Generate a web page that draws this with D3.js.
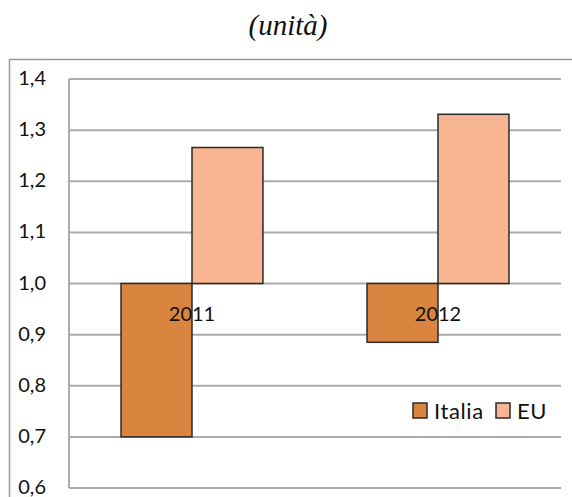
<!DOCTYPE html>
<html>
<head>
<meta charset="utf-8">
<script src="https://cdn.jsdelivr.net/npm/d3@7"></script>
<style>
body { margin: 0; background: #fff; }
svg { display: block; }
.title { font-family: 'Liberation Serif', 'Times New Roman', Times, serif; font-style: italic; }
</style>
</head>
<body>
<svg id="chart" width="572" height="497"></svg>
<script>
// data
let years = ['2011', '2012'];
let series = ['Italia', 'EU'];
let italia = [0.70, 0.885];
let eu = [1.266, 1.331];
let yTicks = [0.6, 0.7, 0.8, 0.9, 1.0, 1.1, 1.2, 1.3, 1.4];
let colours = ['#d9843f', '#f7b591'];

let svg = d3.select('#chart');
let plotLeft = 69, plotRight = 561, plotTop = 79, plotBottom = 488;
let labelFont = 'Lato, "Open Sans", sans-serif';

// title
svg.append('text')
	.attr('class', 'title')
	.attr('x', 288)
	.attr('y', 35)
	.attr('text-anchor', 'middle')
	.attr('font-size', 29)
	.attr('fill', '#111')
	.text('(unità)');

// outer frame
svg.append('rect')
	.attr('x', 9.5)
	.attr('y', 59.5)
	.attr('width', 600)
	.attr('height', 500)
	.attr('fill', 'none')
	.attr('stroke', '#9a9a9a')
	.attr('stroke-width', 1.5);

let y = d3.scaleLinear().domain([0.6, 1.4]).range([plotBottom, plotTop]);
let x0 = d3.scaleBand().domain(years).range([plotLeft, plotRight])
	.paddingInner(0.423).paddingOuter(0.2115);
let x1 = d3.scaleBand().domain(series).range([0, x0.bandwidth()]);

// gridlines
svg.append('g')
	.selectAll('line')
	.data(yTicks)
	.join('line')
	.attr('x1', plotLeft)
	.attr('x2', plotRight)
	.attr('y1', d => y(d))
	.attr('y2', d => y(d))
	.attr('stroke', '#ababab')
	.attr('stroke-width', 2);

svg.append('line')
	.attr('x1', plotLeft).attr('x2', plotLeft)
	.attr('y1', plotTop).attr('y2', plotBottom)
	.attr('stroke', '#ababab')
	.attr('stroke-width', 2);

// y labels
svg.append('g')
	.selectAll('text')
	.data(yTicks)
	.join('text')
	.attr('x', 46)
	.attr('y', d => y(d) + 6)
	.attr('text-anchor', 'end')
	.attr('font-family', labelFont)
	.attr('font-size', 20)
	.attr('fill', '#111')
	.text(d => d3.format('.1f')(d).replace('.', ','));

// bars
let rows = years.map((yr, i) => ({year: yr, values: [italia[i], eu[i]]}));
let groups = svg.append('g')
	.selectAll('g')
	.data(rows)
	.join('g')
	.attr('transform', d => `translate(${x0(d.year)},0)`);

groups.selectAll('rect')
	.data(d => d.values.map((v, j) => ({key: series[j], value: v, j: j})))
	.join('rect')
	.attr('x', d => x1(d.key))
	.attr('width', x1.bandwidth())
	.attr('y', d => Math.min(y(d.value), y(1)))
	.attr('height', d => Math.abs(y(d.value) - y(1)))
	.attr('fill', d => colours[d.j])
	.attr('stroke', '#2a2a2a')
	.attr('stroke-width', 1.5);

// category labels near baseline
svg.append('g')
	.selectAll('text')
	.data(years)
	.join('text')
	.attr('x', d => x0(d) + x0.bandwidth() / 2)
	.attr('y', y(1) + 37)
	.attr('text-anchor', 'middle')
	.attr('font-family', labelFont)
	.attr('font-size', 20)
	.attr('fill', '#111')
	.text(d => d);

// legend
let legend = svg.append('g').attr('transform', 'translate(413,403)');
let lx = [0, 83];
series.forEach((s, i) => {
	legend.append('rect')
		.attr('x', lx[i]).attr('y', 0)
		.attr('width', 14).attr('height', 15)
		.attr('fill', colours[i])
		.attr('stroke', '#2a2a2a')
		.attr('stroke-width', 1.5);
	legend.append('text')
		.attr('x', lx[i] + 21)
		.attr('y', 16)
		.attr('font-family', labelFont)
		.attr('font-size', 22)
		.attr('letter-spacing', 0.6)
		.attr('fill', '#111')
		.text(s);
});
</script>
</body>
</html>
